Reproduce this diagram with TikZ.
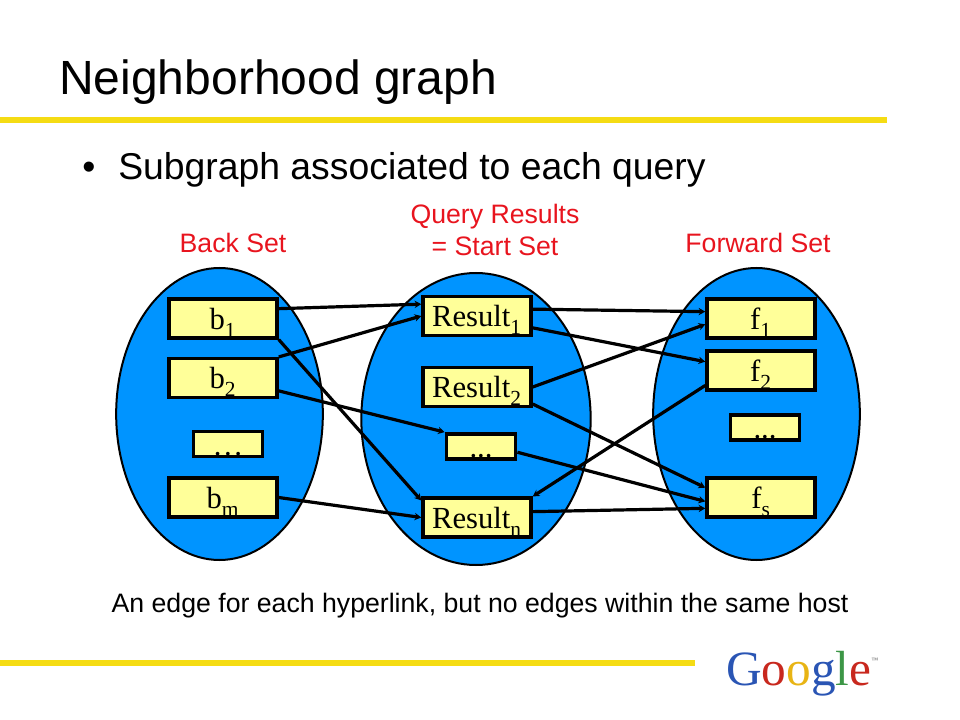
\documentclass[tikz,border=0pt]{standalone}
\usepackage{xcolor}
\usepackage{fontspec}
\setmainfont{Liberation Sans}
\newfontfamily\boxfont{Liberation Serif}
\usetikzlibrary{arrows.meta,shapes.geometric}
\definecolor{setblue}{HTML}{0094FF}
\definecolor{boxyellow}{HTML}{FFFF99}
\definecolor{barYellow}{HTML}{F5DC14}
\definecolor{lblred}{HTML}{E8141E}
\definecolor{gblue}{HTML}{2A55B4}
\definecolor{gred}{HTML}{C8281E}
\definecolor{gyellow}{HTML}{E8B414}
\definecolor{ggreen}{HTML}{3C9646}
\tikzset{
  setoval/.style={ellipse, fill=setblue, draw=black, line width=1.5pt, inner sep=0pt},
  bx/.style={rectangle, fill=boxyellow, draw=black, line width=2.6pt, minimum width=81pt, minimum height=29pt, inner sep=0pt, text height=16pt, text depth=0pt, font=\boxfont\fontsize{23}{24}\selectfont},
  dotbx/.style={bx, minimum width=52pt, minimum height=19pt, text height=17pt},
  lk/.style={draw=black, line width=2.4pt, -{Stealth[length=5pt,width=5.5pt]}},
  lbl/.style={text=lblred, font=\fontsize{20}{23}\selectfont, inner sep=0pt, align=center},
  bar/.style={fill=barYellow, draw=none}
}
\newcommand{\lowsub}[1]{\textsubscript{\raisebox{-2.5pt}{#1}}}
\begin{document}
\begin{tikzpicture}[x=0.75pt,y=-0.75pt]
  \useasboundingbox (0,0) rectangle (960,720);
  % title and rules
  \node[anchor=base west, inner sep=0pt, font=\fontsize{36}{40}\selectfont] (title) at (59,95) {Neighborhood graph};
  \fill[bar] (0,117) rectangle (887,123);
  \node[anchor=base west, inner sep=0pt, font=\fontsize{28}{32}\selectfont] (bul) at (82,180) {•};
  \node[anchor=base west, inner sep=0pt, font=\fontsize{28}{32}\selectfont] (sub) at (118,180) {Subgraph associated to each query};
  % the three sets
  \node[setoval, minimum width=155pt, minimum height=219pt] (back) at (219.5,414) {};
  \node[setoval, minimum width=172pt, minimum height=219pt] (start) at (476,419) {};
  \node[setoval, minimum width=155pt, minimum height=219pt] (fwd) at (756.5,414) {};
  \node[lbl] (backl) at (233,243) {Back Set};
  \node[lbl] (startl) at (495,230) {Query Results\\[1pt]= Start Set};
  \node[lbl] (fwdl) at (758,243) {Forward Set};
  % boxes
  \node[bx] (b1) at (223,318.5) {b\lowsub{1}};
  \node[bx] (b2) at (223,378) {b\lowsub{2}};
  \node[dotbx] (bd) at (228,444) {…};
  \node[bx] (bm) at (223,497.5) {b\lowsub{m}};
  \node[bx] (r1) at (477,316) {Result\lowsub{1}};
  \node[bx] (r2) at (477,387) {Result\lowsub{2}};
  \node[dotbx] (rd) at (481,446.5) {...};
  \node[bx] (rn) at (477,517.5) {Result\lowsub{n}};
  \node[bx] (f1) at (761,318.5) {f\lowsub{1}};
  \node[bx] (f2) at (761,370.5) {f\lowsub{2}};
  \node[dotbx] (fd) at (765,427.5) {...};
  \node[bx] (fs) at (761,497.5) {f\lowsub{s}};
  % links
  \draw[lk] (b1.10) -- (r1.168);
  \draw[lk] (b1.south east) -- (rn.163);
  \draw[lk] (b2.north east) -- (r1.west);
  \draw[lk] (b2.-13) -- (rd.north west);
  \draw[lk] (bm.east) -- (rn.west);
  \draw[lk] (r1.7) -- (f1.173);
  \draw[lk] (r1.-12) -- (f2.171);
  \draw[lk] (r2.east) -- (f1.186);
  \draw[lk] (r2.-17) -- (fs.170);
  \draw[lk] (rd.-9) -- (fs.184);
  \draw[lk] (rn.6) -- (fs.191);
  \draw[lk] (f2.195) -- (rn.north east);
  % bottom
  \node[anchor=base, inner sep=0pt, font=\fontsize{20}{23}\selectfont] (cap) at (480,612) {An edge for each hyperlink, but no edges within the same host};
  \fill[bar] (0,660) rectangle (695,666);
  \node[anchor=base west, inner sep=0pt, font=\boxfont\fontsize{37}{40}\selectfont] (logo) at (726,685) {\textcolor{gblue}{G}\textcolor{gred}{o}\textcolor{gyellow}{o}\textcolor{gblue}{g}\textcolor{ggreen}{l}\textcolor{gred}{e}\raisebox{17pt}{\fontsize{5}{5}\selectfont\textcolor{black!70}{™}}};
\end{tikzpicture}
\end{document}
